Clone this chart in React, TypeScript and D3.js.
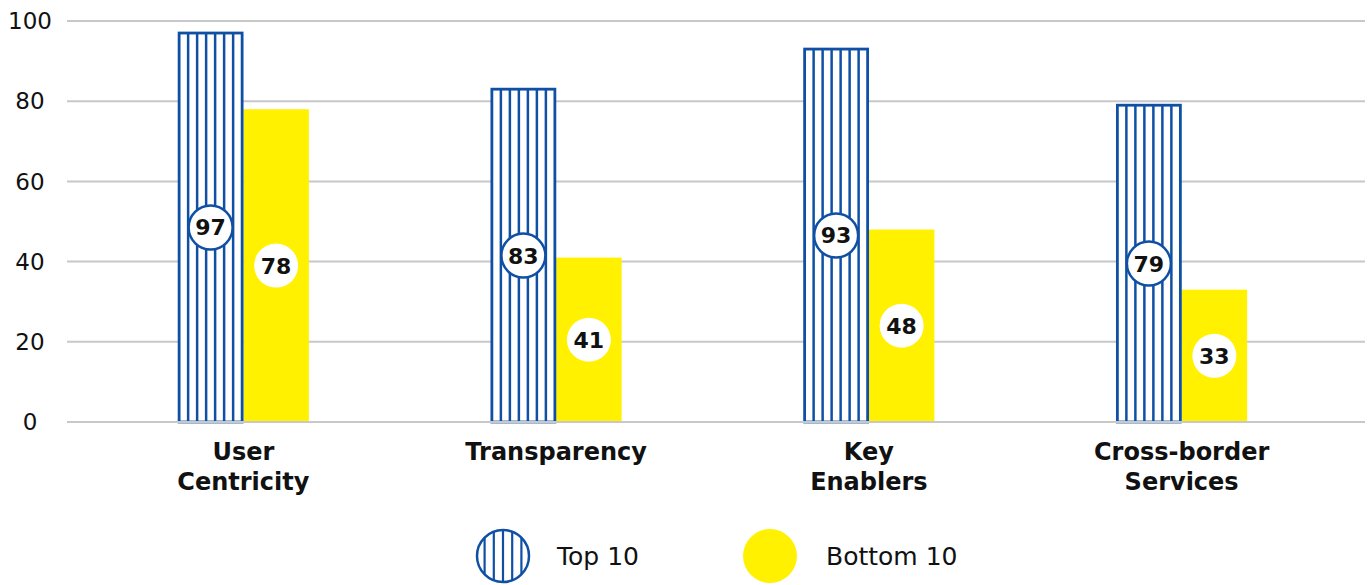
import React from "react";
import * as d3 from "d3";

const categories = ["User Centricity", "Transparency", "Key Enablers", "Cross-border Services"];
const categoryLines = [["User", "Centricity"], ["Transparency"], ["Key", "Enablers"], ["Cross-border", "Services"]];
const series = ["Top 10", "Bottom 10"];
const top10 = [97, 83, 93, 79];
const bottom10 = [78, 41, 48, 33];
const yTicks = [0, 20, 40, 60, 80, 100];

const BLUE = "#0f50a5";
const YELLOW = "#fff100";
const FONT = "'DejaVu Sans', Verdana, sans-serif";

export default function App() {
  const W = 1372, H = 585;
  const y = d3.scaleLinear().domain([0, 100]).range([422, 21]);
  const x = d3.scalePoint<string>().domain(categories).range([87, 1338]).padding(0.5);
  const sub = d3.scaleBand<string>().domain(series).range([-65.5, 65.5]);
  const bw = sub.bandwidth();
  const stripes = 7;

  return (
    <svg width={W} height={H} style={{ position: "absolute", left: 0, top: 0, background: "#fff" }}>
      {yTicks.map((t) => (
        <g key={t}>
          <line x1={67} x2={1365} y1={y(t)} y2={y(t)} stroke="#c8c8c8" strokeWidth={2} />
          <text x={30} y={y(t)} dy="0.36em" textAnchor="middle" fontFamily={FONT} fontSize={23} fill="#111">{t}</text>
        </g>
      ))}
      {categories.map((c, i) => {
        const cx = x(c)!;
        const x0 = cx + sub("Top 10")!;
        const x1 = cx + sub("Bottom 10")!;
        const yt = y(top10[i]);
        const yb = y(bottom10[i]);
        const h0 = y(0) - yt;
        return (
          <g key={c}>
            <rect x={x1} y={yb} width={bw} height={y(0) - yb} fill={YELLOW} />
            <rect x={x0 + 1.25} y={yt} width={bw - 2.5} height={h0} fill="#fff" stroke={BLUE} strokeWidth={2.8} />
            {d3.range(1, stripes).map((k) => (
              <line key={k} x1={x0 + 1.25 + (k * (bw - 2.5)) / stripes} x2={x0 + 1.25 + (k * (bw - 2.5)) / stripes} y1={yt} y2={y(0)} stroke={BLUE} strokeWidth={2.5} />
            ))}
            <circle cx={x0 + bw / 2} cy={y(top10[i] / 2)} r={22} fill="#fff" stroke={BLUE} strokeWidth={2.5} />
            <text x={x0 + bw / 2} y={y(top10[i] / 2)} dy="0.36em" textAnchor="middle" fontFamily={FONT} fontWeight="bold" fontSize={22} fill="#111">{top10[i]}</text>
            <circle cx={x1 + bw / 2} cy={y(bottom10[i] / 2)} r={22} fill="#fff" />
            <text x={x1 + bw / 2} y={y(bottom10[i] / 2)} dy="0.36em" textAnchor="middle" fontFamily={FONT} fontWeight="bold" fontSize={22} fill="#111">{bottom10[i]}</text>
            {categoryLines[i].map((ln, j) => (
              <text key={j} x={cx} y={460 + j * 30} textAnchor="middle" fontFamily={FONT} fontWeight="bold" fontSize={24} fill="#111">{ln}</text>
            ))}
          </g>
        );
      })}
      <line x1={67} x2={1365} y1={y(0)} y2={y(0)} stroke="#c8c8c8" strokeWidth={2} />
      {/* legend */}
      <g>
        <clipPath id="legclip"><circle cx={503} cy={556} r={26} /></clipPath>
        <circle cx={503} cy={556} r={26} fill="#fff" />
        <g clipPath="url(#legclip)">
          {d3.range(-2, 3).map((k) => (
            <line key={k} x1={503 + k * 9.2} x2={503 + k * 9.2} y1={525} y2={590} stroke={BLUE} strokeWidth={2.2} />
          ))}
        </g>
        <circle cx={503} cy={556} r={26} fill="none" stroke={BLUE} strokeWidth={2.5} />
        <text x={557} y={556} dy="0.36em" fontFamily={FONT} fontSize={25} fill="#111">Top 10</text>
        <circle cx={770} cy={556} r={27} fill={YELLOW} />
        <text x={826} y={556} dy="0.36em" fontFamily={FONT} fontSize={25} fill="#111">Bottom 10</text>
      </g>
    </svg>
  );
}
